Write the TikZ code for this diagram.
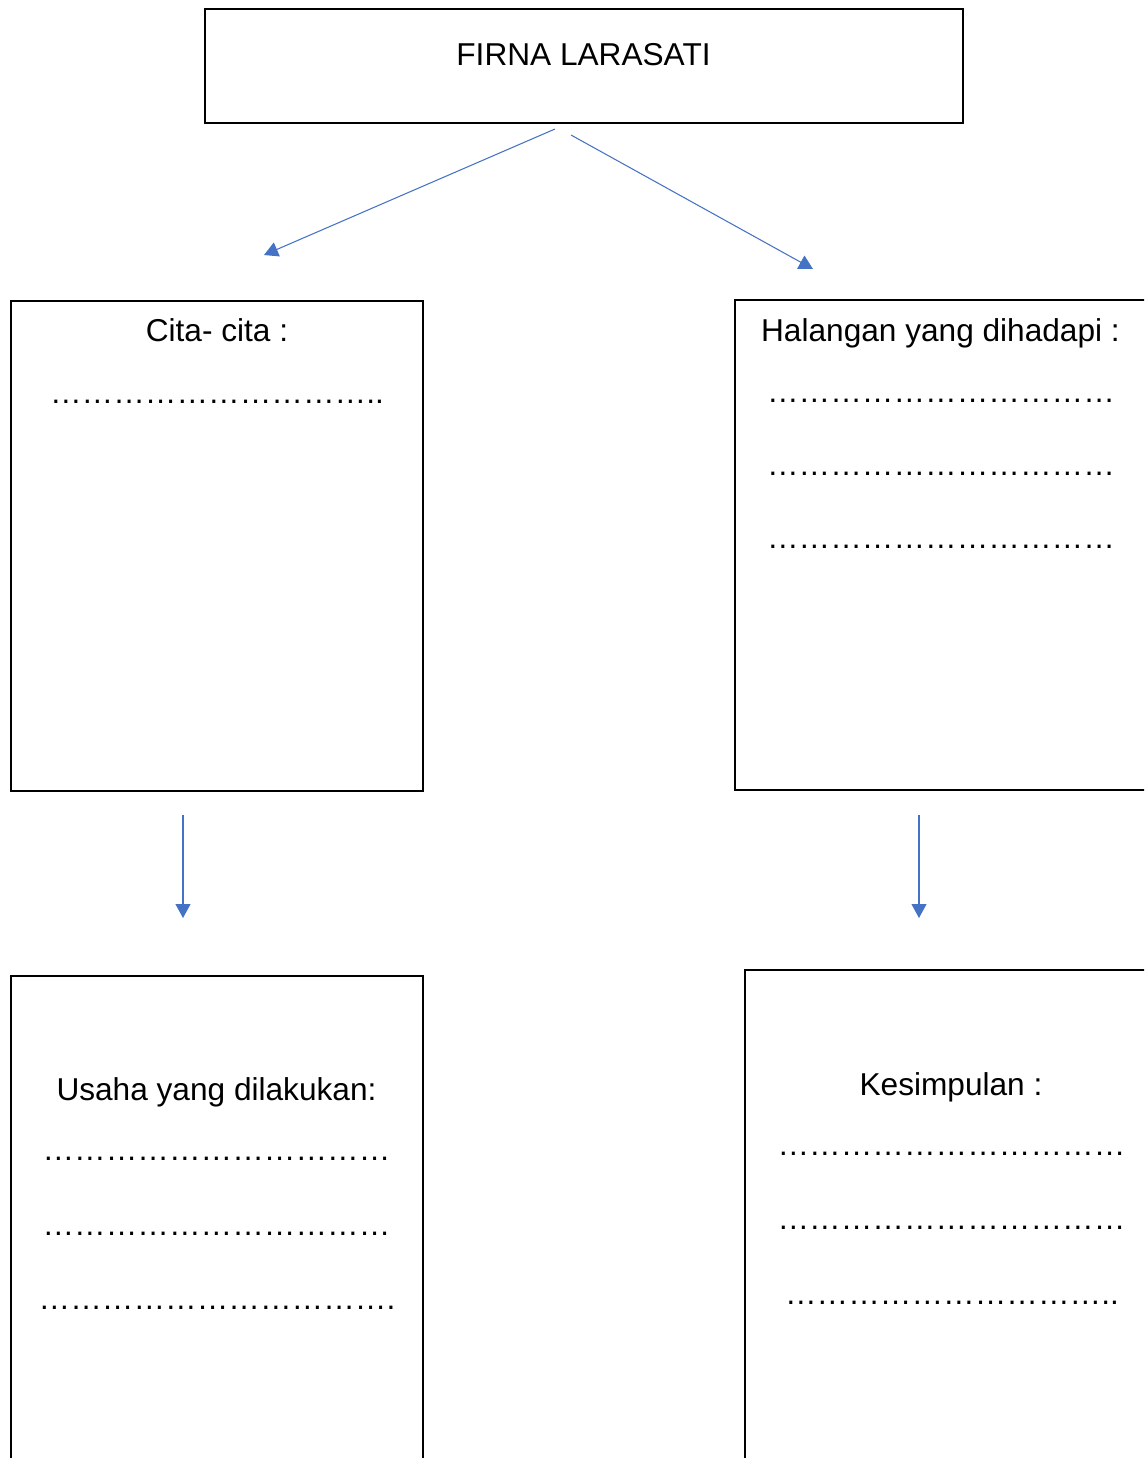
\documentclass[tikz,border=0pt]{standalone}
\usepackage{fontspec}
\setmainfont{Liberation Sans}
\usetikzlibrary{arrows.meta, positioning}
\definecolor{biru}{HTML}{4472C4}
\newcommand{\titik}[1]{\foreach\k in {1,...,#1}{…}}

\begin{document}
\begin{tikzpicture}[
x = 0.02cm, y = -0.02cm,
 kotak/.style = {rectangle, draw, line width=1.1pt, inner sep=0pt, outer sep=0pt, anchor=north west},
  teks/.style = {font=\fontsize{18}{22}\selectfont, inner sep=0pt, anchor=base},
 panah/.style = {draw=biru, line width=0.6pt, -{Triangle[length=0.28cm, width=0.3cm]}}
                    ]
\useasboundingbox (0,0) rectangle (1144,1458);
\clip (0,0) rectangle (1144,1458);

%boxes
\node[kotak, minimum width=15.16cm, minimum height=2.28cm] (nama) at (205,9) {};
\node[kotak, minimum width=8.24cm, minimum height=9.8cm] (cita) at (11,301) {};
\node[kotak, minimum width=8.4cm, minimum height=9.8cm] (halangan) at (735,300) {};
\node[kotak, minimum width=8.24cm, minimum height=10cm] (usaha) at (11,976) {};
\node[kotak, minimum width=8.2cm, minimum height=10.2cm] (simpul) at (745,970) {};

%texts
\node[teks] (namaT) at (583.5,65) {FIRNA LARASATI};

\node[teks] (citaT) at (217,341.5) {Cita- cita :};
\node[teks] (citaD) at (217,403) {\titik{10}..};

\node[teks] (halT) at (940.5,341.5) {Halangan yang dihadapi :};
\node[teks] (halD1) at (941,402) {\titik{11}};
\node[teks] (halD2) at (941,475) {\titik{11}};
\node[teks] (halD3) at (941,548) {\titik{11}};

\node[teks] (usahaT) at (216.5,1100) {Usaha yang dilakukan:};
\node[teks] (usahaD1) at (216.5,1160) {\titik{11}};
\node[teks] (usahaD2) at (216.5,1235) {\titik{11}};
\node[teks] (usahaD3) at (217,1309) {\titik{11}.};

\node[teks] (simpulT) at (951,1095) {Kesimpulan :};
\node[teks] (simpulD1) at (951.5,1155) {\titik{11}};
\node[teks] (simpulD2) at (951.5,1229) {\titik{11}};
\node[teks] (simpulD3) at (952,1304) {\titik{10}..};

% arrows
\coordinate (kiriA) at (555,129);
\coordinate (kiriB) at (264,255);
\coordinate (kananA) at (571,135);
\coordinate (kananB) at (813,269);
\coordinate (bawahKiriA) at (183,815);
\coordinate (bawahKiriB) at (183,918);
\coordinate (bawahKananA) at (919,815);
\coordinate (bawahKananB) at (919,918);

\draw[panah] (kiriA) -- (kiriB);
\draw[panah] (kananA) -- (kananB);
\draw[panah] (bawahKiriA) -- (bawahKiriB);
\draw[panah] (bawahKananA) -- (bawahKananB);
\end{tikzpicture}
\end{document}
